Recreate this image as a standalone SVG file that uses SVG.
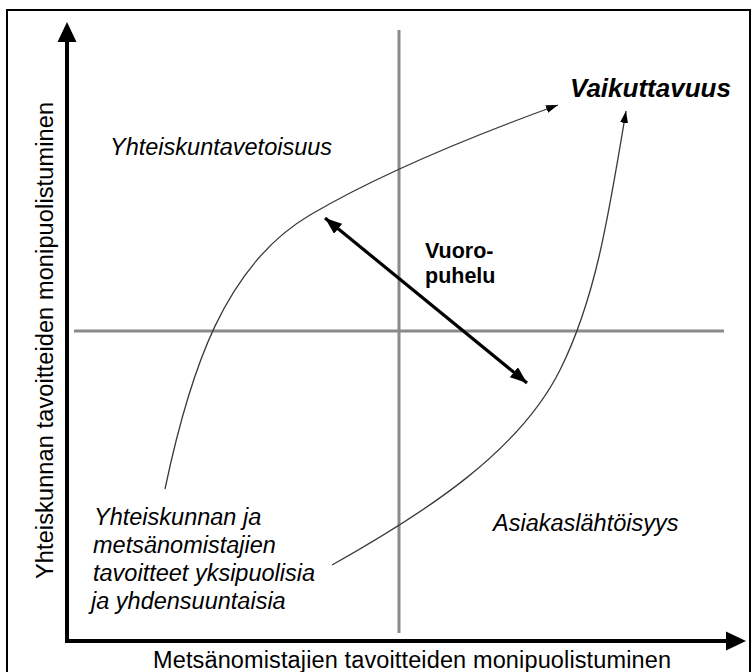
<svg xmlns="http://www.w3.org/2000/svg" width="752" height="672" viewBox="0 0 752 672">
<style>
text{font-family:"Liberation Sans",Arial,sans-serif;fill:#000}
.lbl{font-size:23.5px}
.it{font-style:italic}
.b{font-weight:bold}
.grid{stroke:#8a8a8a;stroke-width:3;fill:none}
.curve{stroke:#3a3a3a;stroke-width:1.3;fill:none}
.axis{stroke:#000;stroke-width:4;fill:none}
</style>
<defs>
<marker id="thin" markerUnits="userSpaceOnUse" markerWidth="14" markerHeight="10" refX="12" refY="4" orient="auto">
<path d="M0,0 L12,4 L0,8 z" fill="#000"/>
</marker>
<marker id="bold" markerUnits="userSpaceOnUse" markerWidth="20" markerHeight="14" refX="17" refY="6.5" orient="auto-start-reverse">
<path d="M0,0 L17,6.5 L0,13 z" fill="#000"/>
</marker>
</defs>
<rect x="7" y="10" width="743" height="670" fill="#fff" stroke="#000" stroke-width="2"/>
<g id="grid">
<line class="grid" x1="399" y1="30" x2="399" y2="633"/>
<line class="grid" x1="74" y1="331" x2="724" y2="331"/>
</g>
<g id="axes">
<line class="axis" x1="67" y1="643" x2="67" y2="40"/>
<polygon points="57.5,42 67,22 76.5,42" fill="#000"/>
<line class="axis" x1="65" y1="641" x2="728" y2="641"/>
<polygon points="726,631.5 746,641 726,650.5" fill="#000"/>
</g>
<g id="connectors">
<path class="curve" d="M165,489 C190,370 225,265 310,215 C350,191.5 420,155 558,105" marker-end="url(#thin)"/>
<path class="curve" d="M332,565 C430,510 520,450 560,370 C595,300 608,220 626,111" marker-end="url(#thin)"/>
<line x1="325" y1="218" x2="527" y2="383" stroke="#000" stroke-width="3.2" marker-start="url(#bold)" marker-end="url(#bold)"/>
</g>
<g id="label-y-axis">
<text class="lbl" transform="translate(53,340.5) rotate(-90)" text-anchor="middle" textLength="477">Yhteiskunnan tavoitteiden monipuolistuminen</text>
</g>
<g id="label-x-axis">
<text class="lbl" x="153" y="668" textLength="518">Metsänomistajien tavoitteiden monipuolistuminen</text>
</g>
<g id="node-yhteiskuntavetoisuus">
<text class="lbl it" x="110" y="155">Yhteiskuntavetoisuus</text>
</g>
<g id="node-vaikuttavuus">
<text class="b it" x="570" y="97" font-size="26">Vaikuttavuus</text>
</g>
<g id="node-vuoropuhelu">
<text class="b" x="425" y="258" font-size="21.5">Vuoro-</text>
<text class="b" x="425" y="283" font-size="21.5">puhelu</text>
</g>
<g id="node-asiakaslahtoisyys">
<text class="lbl it" x="493" y="531">Asiakaslähtöisyys</text>
</g>
<g id="node-yksipuolisia">
<text class="lbl it" x="94" y="525">Yhteiskunnan ja</text>
<text class="lbl it" x="93" y="553">metsänomistajien</text>
<text class="lbl it" x="93" y="581">tavoitteet yksipuolisia</text>
<text class="lbl it" x="91" y="609">ja yhdensuuntaisia</text>
</g>
</svg>
